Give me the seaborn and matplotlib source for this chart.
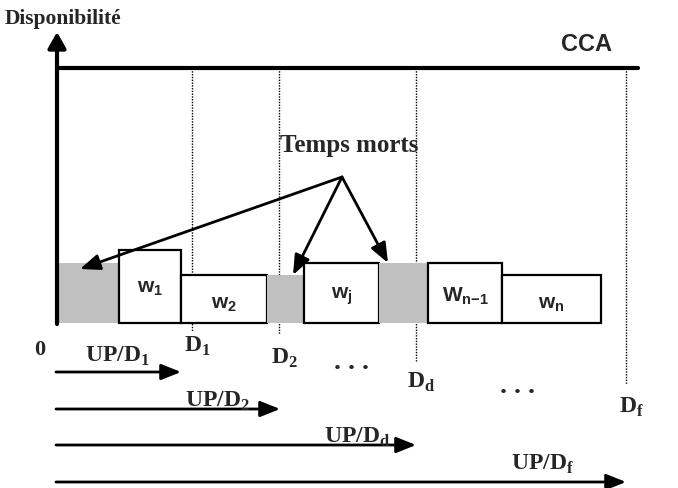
import matplotlib
matplotlib.use("Agg")
import matplotlib.pyplot as plt
import seaborn as sns
import numpy as np

sns.set_theme(style="white")
plt.rcParams['font.family'] = ['Liberation Serif', 'DejaVu Serif']
plt.rcParams['mathtext.fontset'] = 'custom'
plt.rcParams['mathtext.rm'] = 'Liberation Serif:bold'
plt.rcParams['mathtext.sf'] = 'Liberation Sans:bold'

# ---- data (time axis in arbitrary units, availability in arbitrary units) ----
block_start = [57, 119, 181, 267, 304, 379, 428, 502]
block_width = [62, 62, 86, 37, 75, 49, 74, 99]
block_height = [60, 73, 48, 48, 60, 60, 60, 48]
block_kind = ["dead", "task", "task", "dead", "task", "dead", "task", "task"]
task_labels = [r"$\mathsf{w}_\mathsf{1}$", r"$\mathsf{w}_\mathsf{2}$", r"$\mathsf{w}_\mathsf{j}$",
               r"$\mathsf{W}_\mathsf{n{-}1}$", r"$\mathsf{w}_\mathsf{n}$"]

deadlines = [192, 279, 416, 626]
deadline_labels = [r"$\mathrm{D}_\mathrm{1}$", r"$\mathrm{D}_\mathrm{2}$",
                   r"$\mathrm{D}_\mathrm{d}$", r"$\mathrm{D}_\mathrm{f}$"]
deadline_line_end = [-8, -11, -38, -61]
deadline_label_y = [-22, -34, -58, -83]

up_labels = [r"$\mathrm{UP/D}_\mathrm{1}$", r"$\mathrm{UP/D}_\mathrm{2}$",
             r"$\mathrm{UP/D}_\mathrm{d}$", r"$\mathrm{UP/D}_\mathrm{f}$"]
up_end = [181, 280, 416, 626]
up_y = [-49, -86, -122, -159]
up_label_x = [117, 217, 357, 542]
up_label_y = [-32, -77, -113, -140]

cca_level = 255
origin_x = 57

fig = plt.figure(figsize=(6.78, 4.89), dpi=100)
ax = fig.add_axes([0, 0, 1, 1])
ax.set_xlim(0, 678)
ax.set_ylim(-165, 324)
ax.axis("off")

# blocks
colors = ["#c0c0c0" if k == "dead" else "white" for k in block_kind]
edges = ["none" if k == "dead" else "black" for k in block_kind]
ax.bar(block_start, block_height, width=block_width, align="edge",
       color=colors, edgecolor=edges, linewidth=1.6, zorder=2)

# task labels
label_y = [36, 20, 28, 28, 20]
tasks = [(s, w) for s, w, k in zip(block_start, block_width, block_kind) if k == "task"]
for (s, w), lab, ly in zip(tasks, task_labels, label_y):
    ax.text(s + w / 2, ly, lab, ha="center", va="center", fontsize=15, zorder=3)

# deadlines (dotted)
for d, e in zip(deadlines, deadline_line_end):
    ax.plot([d, d], [cca_level, e], color="black", lw=1.0, ls=(0, (1, 1)), zorder=1)
for d, lab, ly in zip(deadlines, deadline_labels, deadline_label_y):
    ax.text(d + 5, ly, lab, ha="center", va="center", fontsize=17)

# CCA line
sns.lineplot(x=[origin_x, 638], y=[cca_level, cca_level], color="black", lw=3, ax=ax)
ax.text(586, 279, "CCA", family="Liberation Sans", weight="bold", fontsize=17,
        ha="center", va="center")

# axes with arrows
ax.annotate("", xy=(origin_x, 291), xytext=(origin_x, -1),
            arrowprops=dict(arrowstyle="-|>,head_length=0.8,head_width=0.45", lw=3, color="black",
                            shrinkA=0, shrinkB=0), zorder=3)
ax.annotate("", xy=(681, 0), xytext=(43, 0),
            arrowprops=dict(arrowstyle="-|>,head_length=1.0,head_width=0.4", lw=2, color="black",
                            shrinkA=0, shrinkB=0), zorder=3)
ax.text(5, 305, "Disponibilité", weight="bold", fontsize=15.5, ha="left", va="center")
ax.text(40, -26, "0", weight="bold", fontsize=16, ha="center", va="center")

# dots
ax.text(352, -39, ". . .", weight="bold", fontsize=20, ha="center", va="center")
ax.text(518, -63, ". . .", weight="bold", fontsize=20, ha="center", va="center")

# Temps morts
ax.text(349, 178, "Temps morts", weight="bold", fontsize=18, ha="center", va="center")
src = (342, 146)
for tgt in [(80, 54), (293, 48), (388, 60)]:
    ax.annotate("", xy=tgt, xytext=src,
                arrowprops=dict(arrowstyle="-|>,head_length=1.0,head_width=0.4", lw=2,
                                color="black", shrinkA=0, shrinkB=0), zorder=4)

# UP/D arrows
for e, y in zip(up_end, up_y):
    ax.annotate("", xy=(e, y), xytext=(56, y),
                arrowprops=dict(arrowstyle="-|>,head_length=1.0,head_width=0.4", lw=2,
                                color="black", shrinkA=0, shrinkB=0))
for lab, x, y in zip(up_labels, up_label_x, up_label_y):
    ax.text(x, y, lab, ha="center", va="center", fontsize=17)

fig.savefig("out.png", dpi=100)
